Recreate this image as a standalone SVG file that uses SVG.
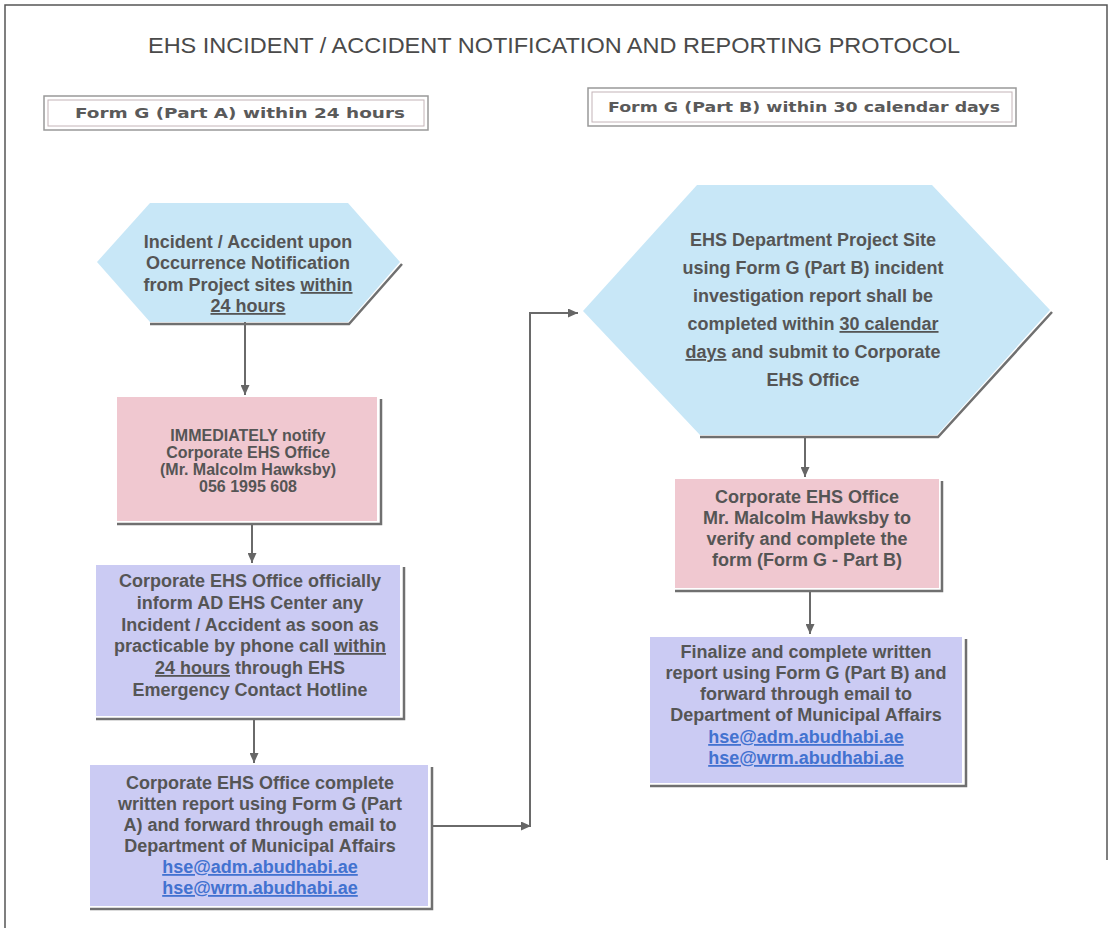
<svg xmlns="http://www.w3.org/2000/svg" width="1113" height="928" viewBox="0 0 1113 928">
<style>
.t{font-family:"Liberation Sans",Arial,sans-serif;font-weight:bold;fill:#555;text-anchor:middle}
.f18{font-size:18px}
.f16{font-size:16px}
.u{text-decoration:underline}
.lnk{fill:#4272d0;text-decoration:underline}
.hdr{font-family:"DejaVu Sans",sans-serif;font-weight:bold;font-size:14px;fill:#5a5a5a;text-anchor:middle}
.hex{fill:#c8e7f7}
.pink{fill:#f0c8d0}
.lav{fill:#cbcbf3}
.sh{fill:none;stroke:#707070;stroke-width:2.5}
.cn{fill:none;stroke:#6a6a6a;stroke-width:2}
</style>
<defs>
<marker id="ah" markerUnits="userSpaceOnUse" markerWidth="10" markerHeight="9" refX="10" refY="4.5" orient="auto">
<path d="M0,0 L10,4.5 L0,9 z" fill="#666"/>
</marker>
</defs>
<rect width="1113" height="928" fill="#fff"/>
<g id="frame" fill="none" stroke="#555" stroke-width="1.5">
<path d="M5,928 V5 H1107 V860"/>
</g>
<g id="title">
<text x="554" y="53" font-family="'Liberation Sans',Arial,sans-serif" font-size="22" fill="#4a4a4a" text-anchor="middle" textLength="812" lengthAdjust="spacingAndGlyphs">EHS INCIDENT / ACCIDENT NOTIFICATION AND REPORTING PROTOCOL</text>
</g>
<g id="header-a">
<rect x="44" y="96" width="384" height="34" fill="#fff" stroke="#999" stroke-width="1.5"/>
<rect x="48" y="100" width="376" height="26" fill="none" stroke="#c4b4b8" stroke-width="1"/>
<text class="hdr" x="240" y="118" textLength="330" lengthAdjust="spacingAndGlyphs">Form G (Part A) within 24 hours</text>
</g>
<g id="header-b">
<rect x="588" y="88" width="428" height="38" fill="#fff" stroke="#999" stroke-width="1.5"/>
<rect x="592" y="92" width="420" height="30" fill="none" stroke="#c4b4b8" stroke-width="1"/>
<text class="hdr" x="804" y="112" textLength="392" lengthAdjust="spacingAndGlyphs">Form G (Part B) within 30 calendar days</text>
</g>
<g id="connectors">
<path class="cn" d="M245,322 V395" marker-end="url(#ah)"/>
<path class="cn" d="M252,525 V563" marker-end="url(#ah)"/>
<path class="cn" d="M254,720 V763" marker-end="url(#ah)"/>
<path class="cn" d="M432,826 H531" marker-end="url(#ah)"/>
<path class="cn" d="M530,826 V313 H578" marker-end="url(#ah)"/>
<path class="cn" d="M805,438 V477" marker-end="url(#ah)"/>
<path class="cn" d="M810,592 V634" marker-end="url(#ah)"/>
</g>
<g id="n1">
<polygon class="hex" points="97,262 150,203 348,203 400,262 348,322 150,322"/>
<path class="sh" d="M402,264 L349,324 H150"/>
<text class="t f18"><tspan x="248" y="248">Incident / Accident upon</tspan><tspan x="248" y="269">Occurrence Notification</tspan><tspan x="248" y="291">from Project sites <tspan class="u">within</tspan></tspan><tspan x="248" y="312" class="u">24 hours</tspan></text>
</g>
<g id="n2">
<rect class="pink" x="117" y="397" width="260" height="124"/>
<path class="sh" d="M117,524 H381 V399"/>
<text class="t f16"><tspan x="248" y="441">IMMEDIATELY notify</tspan><tspan x="248" y="458">Corporate EHS Office</tspan><tspan x="248" y="475">(Mr. Malcolm Hawksby)</tspan><tspan x="248" y="492">056 1995 608</tspan></text>
</g>
<g id="n3">
<rect class="lav" x="96" y="565" width="304" height="151"/>
<path class="sh" d="M96,719 H404 V567"/>
<text class="t f18"><tspan x="250" y="587">Corporate EHS Office officially</tspan><tspan x="250" y="609">inform AD EHS Center any</tspan><tspan x="250" y="631">Incident / Accident as soon as</tspan><tspan x="250" y="652">practicable by phone call <tspan class="u">within</tspan></tspan><tspan x="250" y="674"><tspan class="u">24 hours</tspan> through EHS</tspan><tspan x="250" y="696">Emergency Contact Hotline</tspan></text>
</g>
<g id="n4">
<rect class="lav" x="90" y="765" width="338" height="141"/>
<path class="sh" d="M90,909 H432 V767"/>
<text class="t f18"><tspan x="260" y="789">Corporate EHS Office complete</tspan><tspan x="260" y="810">written report using Form G (Part</tspan><tspan x="260" y="831">A) and forward through email to</tspan><tspan x="260" y="852">Department of Municipal Affairs</tspan><tspan x="260" y="873" class="lnk">hse@adm.abudhabi.ae</tspan><tspan x="260" y="894" class="lnk">hse@wrm.abudhabi.ae</tspan></text>
</g>
<g id="n5">
<polygon class="hex" points="583,311 697,185 932,185 1050,310 937,435 700,435"/>
<path class="sh" d="M1052,312 L938,437 H700"/>
<text class="t f18"><tspan x="813" y="246">EHS Department Project Site</tspan><tspan x="813" y="274">using Form G (Part B) incident</tspan><tspan x="813" y="302">investigation report shall be</tspan><tspan x="813" y="330">completed within <tspan class="u">30 calendar</tspan></tspan><tspan x="813" y="358"><tspan class="u">days</tspan> and submit to Corporate</tspan><tspan x="813" y="386">EHS Office</tspan></text>
</g>
<g id="n6">
<rect class="pink" x="675" y="479" width="264" height="109"/>
<path class="sh" d="M675,591 H942 V481"/>
<text class="t f18"><tspan x="807" y="503">Corporate EHS Office</tspan><tspan x="807" y="524">Mr. Malcolm Hawksby to</tspan><tspan x="807" y="545">verify and complete the</tspan><tspan x="807" y="566">form (Form G - Part B)</tspan></text>
</g>
<g id="n7">
<rect class="lav" x="650" y="637" width="312" height="146"/>
<path class="sh" d="M650,786 H966 V639"/>
<text class="t f18"><tspan x="806" y="658">Finalize and complete written</tspan><tspan x="806" y="679">report using Form G (Part B) and</tspan><tspan x="806" y="700">forward through email to</tspan><tspan x="806" y="721">Department of Municipal Affairs</tspan><tspan x="806" y="743" class="lnk">hse@adm.abudhabi.ae</tspan><tspan x="806" y="764" class="lnk">hse@wrm.abudhabi.ae</tspan></text>
</g>
</svg>
